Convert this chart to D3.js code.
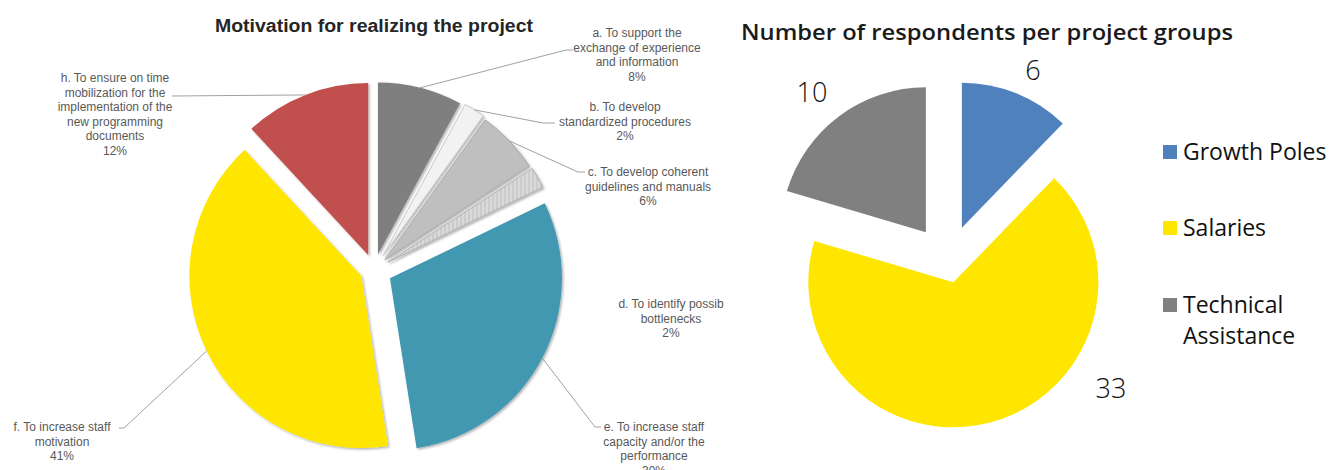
<!DOCTYPE html>
<html><head><meta charset="utf-8">
<script src="https://cdn.jsdelivr.net/npm/d3@7"></script>
<style>html,body{margin:0;padding:0;background:#fff;}svg{display:block;}</style>
</head><body>
<svg id="chart" width="1333" height="470"></svg>
<script>
// ---------- DATA ----------
const leftTitle = "Motivation for realizing the project";
const motivCategories = [
  "a. To support the exchange of experience and information",
  "b. To develop standardized procedures",
  "c. To develop coherent guidelines and manuals",
  "d. To identify possib bottlenecks",
  "e. To increase staff capacity and/or the performance",
  "f. To increase staff motivation",
  "h. To ensure on time mobilization for the implementation of the new programming documents"
];
const motivLabelLines = [
  ["a. To support the", "exchange of experience", "and information"],
  ["b. To develop", "standardized procedures"],
  ["c. To develop coherent", "guidelines and manuals"],
  ["d. To identify possib", "bottlenecks"],
  ["e. To increase staff", "capacity and/or the", "performance"],
  ["f. To increase staff", "motivation"],
  ["h. To ensure on time", "mobilization for the", "implementation of the", "new programming", "documents"]
];
const motivValues = [8, 2, 6, 2, 30, 41, 12];
const motivPercentLabels = ["8%", "2%", "6%", "2%", "30%", "41%", "12%"];

const rightTitle = "Number of respondents per project groups";
const groupCategories = ["Growth Poles", "Salaries", "Technical Assistance"];
const groupLegendLines = [["Growth Poles"], ["Salaries"], ["Technical", "Assistance"]];
const groupValues = [6, 33, 10];

// ---------- DRAW ----------
const svg = d3.select("#chart");
const defs = svg.append("defs");
const pat = defs.append("pattern").attr("id", "hatch").attr("patternUnits", "userSpaceOnUse")
  .attr("width", 4).attr("height", 4);
pat.append("rect").attr("width", 4).attr("height", 4).attr("fill", "#DADADA");
pat.append("line").attr("x1", 1).attr("y1", 0).attr("x2", 1).attr("y2", 4)
  .attr("stroke", "#BDBDBD").attr("stroke-width", 1);
const sh = defs.append("filter").attr("id", "shadow").attr("x", "-20%").attr("y", "-20%")
  .attr("width", "140%").attr("height", "140%");
sh.append("feDropShadow").attr("dx", 1.5).attr("dy", 1.5).attr("stdDeviation", 1.2)
  .attr("flood-color", "#000").attr("flood-opacity", 0.3);

// Left pie
const L = {cx: 374, cy: 270, r: 172};
const leftColors = ["#7F7F7F", "#F2F2F2", "#BFBFBF", "url(#hatch)", "#4298B0", "#FFE600", "#C0504D"];
const leftStrokes = ["none", "#C8C8C8", "#A8A8A8", "#B0B0B0", "none", "none", "none"];
const leftExplode = [16, 17, 15, 16, 18, 14, 16];
const pieL = d3.pie().sort(null).value(d => d)(motivValues);
const arcL = d3.arc().innerRadius(0).outerRadius(L.r);
const gL = svg.append("g");

function sliceOrigin(d, off, C) {
  const m = (d.startAngle + d.endAngle) / 2;
  return [C.cx + off * Math.sin(m), C.cy - off * Math.cos(m)];
}
pieL.forEach((d, i) => {
  const [ox, oy] = sliceOrigin(d, leftExplode[i], L);
  gL.append("path").attr("d", arcL(d)).attr("transform", `translate(${ox},${oy})`)
    .attr("fill", leftColors[i]).attr("stroke", leftStrokes[i]).attr("stroke-width", 1)
    .attr("filter", "url(#shadow)");
});

gL.append("text").attr("x", 374).attr("y", 32).attr("text-anchor", "middle")
  .attr("font-family", "Liberation Sans, Arial, sans-serif").attr("font-weight", "bold")
  .attr("font-size", 18).attr("fill", "#262626")
  .attr("textLength", 318).attr("lengthAdjust", "spacingAndGlyphs").text(leftTitle);

// label layout (positions only)
const leftLabelLayout = [
  {x: 637, y: 33, leader: [[566, 50], [573, 50]]},
  {x: 625, y: 107, leader: [[543, 123], [555, 123]]},
  {x: 648, y: 172, leader: [[578, 172], [585, 172]]},
  {x: 671, y: 304, leader: null},
  {x: 654, y: 427, leader: [[595, 427], [601, 427]]},
  {x: 62, y: 427, leader: [[124, 428], [119, 428]]},
  {x: 115, y: 78, leader: [[172, 96]]}
];
const lineH = 14.6;
pieL.forEach((d, i) => {
  const lay = leftLabelLayout[i];
  const [ox, oy] = sliceOrigin(d, leftExplode[i], L);
  const m = (d.startAngle + d.endAngle) / 2;
  if (lay.leader) {
    const start = [ox + L.r * Math.sin(m), oy - L.r * Math.cos(m)];
    const pts = [start].concat(lay.leader);
    gL.append("path").attr("d", d3.line()(pts)).attr("fill", "none")
      .attr("stroke", "#A0A0A0").attr("stroke-width", 1);
  }
  const lines = motivLabelLines[i].concat([motivPercentLabels[i]]);
  const t = gL.append("text").attr("text-anchor", "middle")
    .attr("font-family", "Liberation Sans, Arial, sans-serif").attr("font-size", 12)
    .attr("fill", "#595959");
  lines.forEach((s, k) => {
    t.append("tspan").attr("x", lay.x).attr("y", lay.y + k * lineH + 4).text(s);
  });
});

// Right pie
const R = {cx: 948, cy: 262, r: 145};
const rightColors = ["#4F81BD", "#FFE600", "#808080"];
const rightExplode = [37, 21, 37];
const pieR = d3.pie().sort(null).value(d => d)(groupValues);
const arcR = d3.arc().innerRadius(0).outerRadius(R.r);
const gR = svg.append("g");
pieR.forEach((d, i) => {
  const [ox, oy] = sliceOrigin(d, rightExplode[i], R);
  gR.append("path").attr("d", arcR(d)).attr("transform", `translate(${ox},${oy})`)
    .attr("fill", rightColors[i]);
});
const valuePos = [[1033, 70], [1111, 388], [812, 92]];
pieR.forEach((d, i) => {
  gR.append("text").attr("x", valuePos[i][0]).attr("y", valuePos[i][1])
    .attr("dy", "0.36em").attr("text-anchor", "middle")
    .attr("font-family", "Open Sans, sans-serif").attr("font-size", 27).attr("font-weight", 300)
    .attr("fill", "#111").text(d.value);
});
gR.append("text").attr("x", 741).attr("y", 40)
  .attr("font-family", "Open Sans, sans-serif").attr("font-weight", 600)
  .attr("font-size", 21).attr("fill", "#1a1a1a")
  .attr("textLength", 492).attr("lengthAdjust", "spacingAndGlyphs").text(rightTitle);

const legendY = [152, 228, 305];
groupCategories.forEach((c, i) => {
  gR.append("rect").attr("x", 1163).attr("y", legendY[i] - 7).attr("width", 14).attr("height", 14)
    .attr("fill", rightColors[i]);
  const t = gR.append("text").attr("font-family", "Open Sans, sans-serif").attr("font-size", 23)
    .attr("fill", "#111");
  groupLegendLines[i].forEach((s, k) => {
    t.append("tspan").attr("x", 1183).attr("y", legendY[i] + k * 31).attr("dy", "0.36em").text(s);
  });
});
</script>
</body></html>
